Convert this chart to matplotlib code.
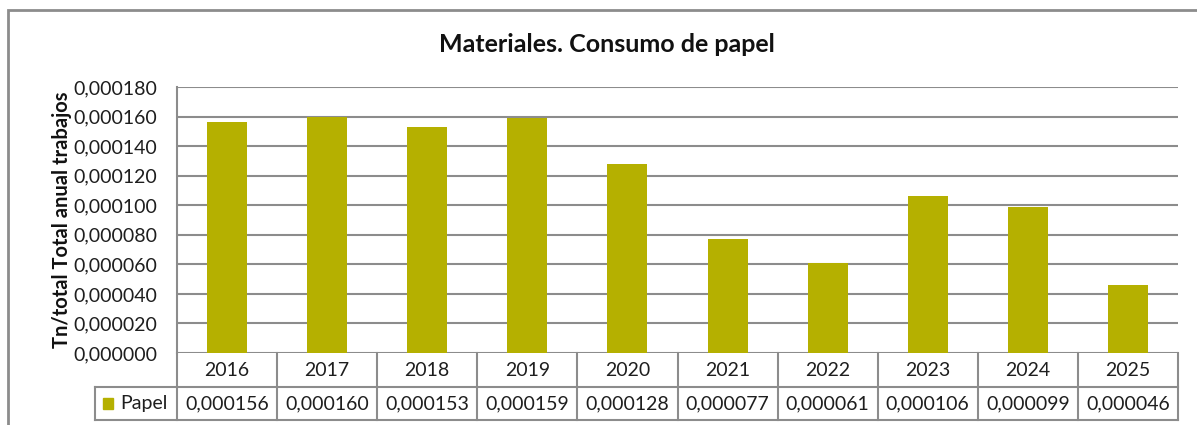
import matplotlib.pyplot as plt
from matplotlib.patches import Rectangle

years = ["2016", "2017", "2018", "2019", "2020", "2021", "2022", "2023", "2024", "2025"]
papel = [0.000156, 0.000160, 0.000153, 0.000159, 0.000128, 0.000077, 0.000061, 0.000106, 0.000099, 0.000046]
yticks = [0.000020 * i for i in range(10)]

bar_color = "#B5B000"
line_color = "#8C8C8C"
txt = "#1E1E1E"
plt.rcParams['font.family'] = ['Lato', 'DejaVu Sans']


def fmt(v):
    return f"{v:.6f}".replace(".", ",")


fig = plt.figure(figsize=(11.97, 4.25), dpi=100)
W, H = 1197, 425
fig.patches.append(Rectangle((8 / W, -0.1), 1.2, (H - 10) / H + 0.1, transform=fig.transFigure,
                             fill=False, edgecolor=line_color, linewidth=2))

ax = fig.add_axes([177 / W, (H - 353) / H, 1001 / W, 266 / H])
x = range(len(years))
ax.bar(x, papel, width=0.4, color=bar_color, zorder=3)
ax.set_xlim(-0.5, len(years) - 0.5)
ax.set_ylim(0, 0.000180)
ax.set_yticks(yticks)
ax.set_yticklabels([fmt(v) for v in yticks], fontsize=14, color=txt)
ax.tick_params(axis="y", length=0, pad=14)
ax.set_xticks([])
ax.grid(axis="y", color=line_color, linewidth=1.5, zorder=0)
for s in ["top", "right", "bottom"]:
    ax.spines[s].set_visible(False)
ax.spines["left"].set_color(line_color)
ax.spines["left"].set_linewidth(1.5)
ax.set_ylabel("Tn/total Total anual trabajos", fontsize=14.5, fontweight="bold", labelpad=1,
              color="#111111")
fig.text(607 / W, 1 - 45 / H, "Materiales. Consumo de papel", ha="center", va="center",
         fontsize=18, fontweight="bold", color="#111111")

# data table below the axis
tr = ax.get_xaxis_transform()
r1 = -34 / 266
r2 = -67 / 266
left = -0.5 - 82 / 100.1
n = len(years)
lw = 1.5
ax.plot([-0.5, n - 0.5], [r1, r1], transform=tr, color=line_color, lw=lw, clip_on=False)
ax.plot([left, n - 0.5], [r2, r2], transform=tr, color=line_color, lw=lw, clip_on=False)
ax.plot([left, -0.5], [r1, r1], transform=tr, color=line_color, lw=lw, clip_on=False)
ax.plot([left, left], [r1, r2], transform=tr, color=line_color, lw=lw, clip_on=False)
for i in range(n + 1):
    ax.plot([i - 0.5, i - 0.5], [0, r2], transform=tr, color=line_color, lw=lw, clip_on=False)
for i, (yr, v) in enumerate(zip(years, papel)):
    ax.text(i, r1 / 2, yr, transform=tr, ha="center", va="center", fontsize=14, color=txt)
    ax.text(i, (r1 + r2) / 2, fmt(v), transform=tr, ha="center", va="center", fontsize=14,
            color=txt)
ax.add_patch(Rectangle((left + 0.08, (r1 + r2) / 2 - 0.02), 0.1, 0.04, transform=tr,
                       color=bar_color, clip_on=False))
ax.text(left + 0.25, (r1 + r2) / 2, "Papel", transform=tr, ha="left", va="center",
        fontsize=14, color=txt)

fig.savefig("out.png", dpi=100)
